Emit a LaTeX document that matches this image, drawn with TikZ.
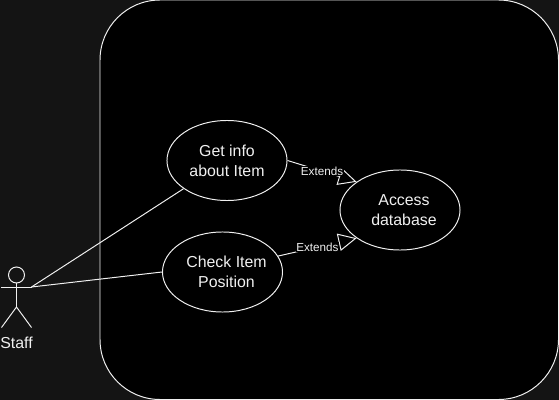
\documentclass[tikz,border=0pt]{standalone}
\usepackage{fontspec}
\setmainfont{Liberation Sans}
\usepackage{xcolor}
\usepackage{tikz}
\usetikzlibrary{arrows.meta, shapes.geometric}
\definecolor{pagebg}{HTML}{141414}
\definecolor{inkline}{HTML}{F0F0F0}
\newcommand{\textnudge}{\hspace*{5.7pt}}

\tikzset{
    usecase/.style={draw=inkline, ellipse, fill=black, text=inkline, minimum width=3cm, minimum height=2cm, inner ysep=0pt, inner xsep=-6pt, align=center, font=\fontsize{11.3}{14.2}\selectfont},
    extendtag/.style={fill=black, text=inkline, inner sep=0.5pt, font=\fontsize{8.3}{9}\selectfont},
    extendline/.style={draw=inkline, -{Triangle[open, length=13pt, width=12.5pt]}},
    actorline/.style={draw=inkline}
}

\begin{document}
\begin{tikzpicture}[x=0.025cm, y=-0.025cm, line width=0.7pt]
    \useasboundingbox[fill=pagebg] (0, 0) rectangle (559, 400);
    \draw[draw=inkline, fill=black, rounded corners=1.5cm] (100, 0) rectangle (558.5, 399.5);

    \node[usecase] at (227, 160.5) (GetInfo) {Get info\\about Item};
    \node[usecase] at (222.5, 272) (CheckItem) {\textnudge Check Item\\\textnudge Position};
    \node[usecase] at (400, 210) (Access) {\textnudge Access\\\textnudge database};

    \coordinate (Hand) at (31.5, 287);
    \node[draw=inkline, circle, minimum size=0.4cm, inner sep=0pt] at (16.5, 275) (Head) {};
    \coordinate (ArmL) at (1.5, 287);
    \coordinate (Hip) at (16.5, 307);
    \coordinate (LegL) at (1.5, 327.5);
    \coordinate (LegR) at (31.5, 327.5);
    \node[text=inkline, font=\fontsize{11.3}{13}\selectfont] at (16.5, 343) (Staff) {Staff};

    \draw[actorline] (Head) -- (Hip);
    \draw[actorline] (ArmL) -- (Hand);
    \draw[actorline] (LegL) -- (Hip) -- (LegR);

    \draw[actorline] (Hand) -- (GetInfo.213);
    \draw[actorline] (Hand) -- (CheckItem.west);
    \draw[extendline] (GetInfo.east) -- (Access.147) node[pos=0.5, extendtag] (TagA) {Extends};
    \draw[extendline] (CheckItem.16) -- (Access.213) node[pos=0.5, extendtag] (TagB) {Extends};
\end{tikzpicture}
\end{document}
